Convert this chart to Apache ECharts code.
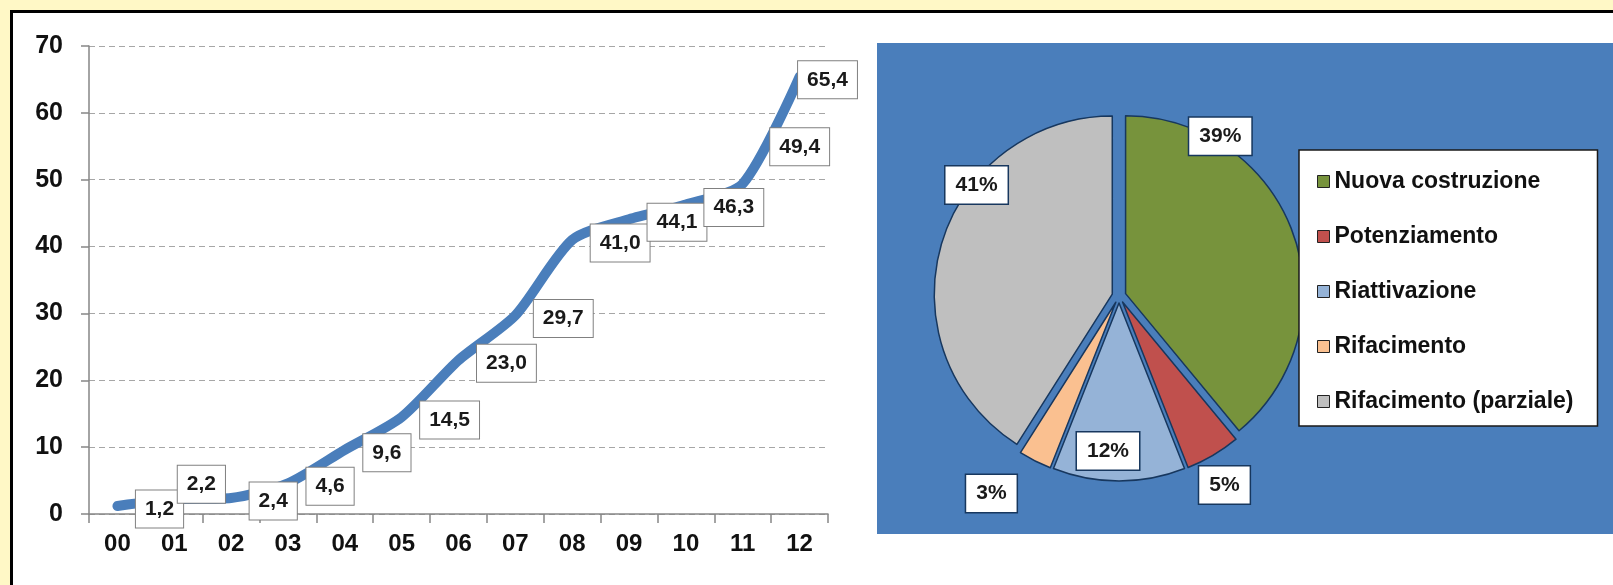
<!DOCTYPE html>
<html>
<head>
<meta charset="utf-8">
<title>Impianti</title>
<script src="https://cdn.jsdelivr.net/npm/echarts@6/dist/echarts.min.js"></script>
<style>
html, body { margin: 0; padding: 0; width: 1613px; height: 585px; overflow: hidden; background: #FFF8C6; }
#frame { position: absolute; left: 10px; top: 10px; width: 1600px; height: 572px; background: #fff; border-left: 3px solid #000; border-top: 3px solid #000; }
#main { position: absolute; left: 0; top: 0; width: 1613px; height: 585px; }
</style>
</head>
<body>
<div id="frame"></div>
<div id="main"></div>
<script>
// anni (asse x) e valori cumulati
var anni = ['00', '01', '02', '03', '04', '05', '06', '07', '08', '09', '10', '11', '12'];
var valori = [1.2, 2.2, 2.4, 4.6, 9.6, 14.5, 23.0, 29.7, 41.0, 44.1, 46.3, 49.4, 65.4];

// torta: tipologie di intervento (%)
var tipologie = ['Nuova costruzione', 'Potenziamento', 'Riattivazione', 'Rifacimento', 'Rifacimento (parziale)'];
var quote = [39, 5, 12, 3, 41];
var coloriTorta = ['#77933C', '#C0504D', '#95B3D7', '#FAC090', '#BFBFBF'];

// spostamenti manuali delle etichette (come nel grafico originale)
var spostaLinea = { 1: [-15, -15], 11: [9, -37], 12: [-20, 3] };
var spostaTorta = [[-106, -87], [-9, 4], [-16, -60], [-25, 6], [69, -51]];

var font = 'Liberation Sans, Arial, sans-serif';

var chart = echarts.init(document.getElementById('main'));

var datiTorta = quote.map(function (v, i) {
    return { name: tipologie[i], value: v, selected: true, itemStyle: { color: coloriTorta[i] } };
});

var option = {
    animation: false,
    graphic: [{
        type: 'rect',
        z: -10,
        shape: { x: 877, y: 43, width: 740, height: 491 },
        style: { fill: '#4A7EBB' },
        silent: true
    }],
    grid: { left: 89, top: 46, width: 739, height: 468 },
    xAxis: {
        type: 'category',
        data: anni,
        boundaryGap: true,
        axisLine: { lineStyle: { color: '#868686', width: 1.5 } },
        axisTick: { show: true, length: 9, lineStyle: { color: '#868686', width: 1.5 } },
        axisLabel: { color: '#111', fontWeight: 'bold', fontSize: 24, fontFamily: font, margin: 18 },
        splitLine: { show: false }
    },
    yAxis: {
        type: 'value',
        min: 0,
        max: 70,
        interval: 10,
        axisLine: { show: true, lineStyle: { color: '#868686', width: 1.5 } },
        axisTick: { show: true, length: 8, lineStyle: { color: '#868686', width: 1.5 } },
        axisLabel: { color: '#111', fontWeight: 'bold', fontSize: 25, fontFamily: font, margin: 26 },
        splitLine: { show: true, lineStyle: { color: '#a6a6a6', type: [6, 4], width: 1.2 } }
    },
    legend: {
        orient: 'vertical',
        left: 1299,
        top: 150,
        data: tipologie,
        icon: 'rect',
        itemWidth: 12,
        itemHeight: 12,
        itemGap: 32,
        padding: [20, 24, 13, 18],
        backgroundColor: '#fff',
        borderColor: '#1a1a1a',
        borderWidth: 1.5,
        itemStyle: { borderColor: '#222', borderWidth: 1 },
        textStyle: { color: '#111', fontWeight: 'bold', fontSize: 23, fontFamily: font },
        selectedMode: false
    },
    series: [{
        type: 'line',
        data: valori,
        smooth: 0.25,
        symbol: 'circle',
        symbolSize: 1,
        showSymbol: true,
        itemStyle: { color: '#4A7EBB' },
        lineStyle: { color: '#4A7EBB', width: 10, cap: 'round', join: 'round' },
        label: {
            show: true,
            position: 'right',
            distance: 18,
            formatter: function (p) { return p.value.toFixed(1).replace('.', ','); },
            color: '#1a1a1a',
            fontWeight: 'bold',
            fontSize: 21,
            fontFamily: font,
            backgroundColor: '#fff',
            borderColor: '#808080',
            borderWidth: 1,
            padding: [8, 9]
        },
        labelLayout: function (p) {
            var n = spostaLinea[p.dataIndex] || [0, 3];
            return { dx: n[0], dy: n[1] };
        },
        emphasis: { disabled: true }
    }, {
        type: 'pie',
        center: [1119, 296],
        radius: 178,
        startAngle: 90,
        clockwise: true,
        selectedMode: 'multiple',
        selectedOffset: 7,
        avoidLabelOverlap: false,
        data: datiTorta,
        itemStyle: { borderColor: '#17375E', borderWidth: 1.5 },
        select: { itemStyle: { borderColor: '#17375E', borderWidth: 1.5 } },
        label: {
            show: true,
            position: 'outside',
            formatter: function (p) { return p.value + '%'; },
            color: '#1a1a1a',
            fontWeight: 'bold',
            fontSize: 21,
            fontFamily: font,
            backgroundColor: '#fff',
            borderColor: '#17375E',
            borderWidth: 1.5,
            padding: [8, 10]
        },
        labelLine: { show: false, length: 30, length2: 0 },
        labelLayout: function (p) {
            var n = spostaTorta[p.dataIndex];
            return { dx: n[0], dy: n[1], align: 'center', verticalAlign: 'middle' };
        },
        emphasis: { disabled: true }
    }]
};

chart.setOption(option);
</script>
</body>
</html>
